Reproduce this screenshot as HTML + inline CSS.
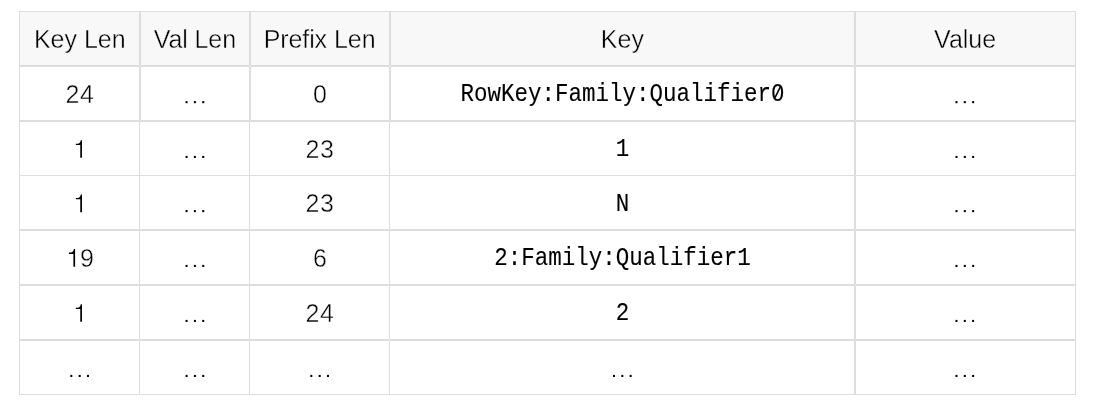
<!DOCTYPE html>
<html><head><meta charset="utf-8"><title>table</title>
<style>
html,body{margin:0;padding:0;background:#fff;}
body{width:1094px;height:408px;position:relative;overflow:hidden;font-family:"Liberation Sans",sans-serif;}
.l{position:absolute;background:#dcdddf;}
.hd{position:absolute;left:20px;top:12px;width:1055px;height:53px;background:#f8f8f8;}
.c{position:absolute;mix-blend-mode:multiply;text-align:center;white-space:nowrap;font-size:25px;line-height:30px;height:30px;color:#000;-webkit-text-stroke:0.4px #fff;}
.h{-webkit-text-stroke-color:#fff;}
.x{color:transparent;-webkit-text-stroke:0 transparent;}
.m{font-family:"Liberation Mono",monospace;font-size:22.5px;color:#000;-webkit-text-stroke:0.1px #000;transform:scaleY(1.15);transform-origin:50% 21px;}
svg{position:absolute;left:0;top:0;}
</style></head><body>
<div class="hd"></div>

<div class="l" style="left:19px;top:11px;width:1px;height:384px"></div>
<div class="l" style="left:1075px;top:11px;width:1px;height:384px"></div>
<div class="l" style="left:139px;top:11px;width:2px;height:110px"></div>
<div class="l" style="left:139px;top:121px;width:1px;height:274px"></div>
<div class="l" style="left:249px;top:11px;width:2px;height:110px"></div>
<div class="l" style="left:249px;top:121px;width:1px;height:274px"></div>
<div class="l" style="left:389px;top:11px;width:2px;height:110px"></div>
<div class="l" style="left:389px;top:121px;width:1px;height:274px"></div>
<div class="l" style="left:854px;top:11px;width:2px;height:384px"></div>
<div class="l" style="left:19px;top:11px;width:1057px;height:1px"></div>
<div class="l" style="left:19px;top:65px;width:1057px;height:2px"></div>
<div class="l" style="left:19px;top:120px;width:1057px;height:2px"></div>
<div class="l" style="left:19px;top:175px;width:1057px;height:1px"></div>
<div class="l" style="left:19px;top:229px;width:1057px;height:2px"></div>
<div class="l" style="left:19px;top:284px;width:1057px;height:2px"></div>
<div class="l" style="left:19px;top:339px;width:1057px;height:2px"></div>
<div class="l" style="left:19px;top:394px;width:1057px;height:1px"></div>
<div class="l" style="left:139px;top:65px;width:2px;height:2px;background:#e0e1e3"></div>
<div class="l" style="left:249px;top:65px;width:2px;height:2px;background:#e0e1e3"></div>
<div class="l" style="left:389px;top:65px;width:2px;height:2px;background:#e0e1e3"></div>
<div class="l" style="left:854px;top:65px;width:2px;height:2px;background:#e0e1e3"></div>
<div class="l" style="left:139px;top:120px;width:2px;height:2px;background:#e0e1e3"></div>
<div class="l" style="left:249px;top:120px;width:2px;height:2px;background:#e0e1e3"></div>
<div class="l" style="left:389px;top:120px;width:2px;height:2px;background:#e0e1e3"></div>
<div class="l" style="left:854px;top:120px;width:2px;height:2px;background:#e0e1e3"></div>
<div class="l" style="left:139px;top:175px;width:1px;height:1px;background:#e0e1e3"></div>
<div class="l" style="left:249px;top:175px;width:1px;height:1px;background:#e0e1e3"></div>
<div class="l" style="left:389px;top:175px;width:1px;height:1px;background:#e0e1e3"></div>
<div class="l" style="left:854px;top:175px;width:2px;height:1px;background:#e0e1e3"></div>
<div class="l" style="left:139px;top:229px;width:1px;height:2px;background:#e0e1e3"></div>
<div class="l" style="left:249px;top:229px;width:1px;height:2px;background:#e0e1e3"></div>
<div class="l" style="left:389px;top:229px;width:1px;height:2px;background:#e0e1e3"></div>
<div class="l" style="left:854px;top:229px;width:2px;height:2px;background:#e0e1e3"></div>
<div class="l" style="left:139px;top:284px;width:1px;height:2px;background:#e0e1e3"></div>
<div class="l" style="left:249px;top:284px;width:1px;height:2px;background:#e0e1e3"></div>
<div class="l" style="left:389px;top:284px;width:1px;height:2px;background:#e0e1e3"></div>
<div class="l" style="left:854px;top:284px;width:2px;height:2px;background:#e0e1e3"></div>
<div class="l" style="left:139px;top:339px;width:1px;height:2px;background:#e0e1e3"></div>
<div class="l" style="left:249px;top:339px;width:1px;height:2px;background:#e0e1e3"></div>
<div class="l" style="left:389px;top:339px;width:1px;height:2px;background:#e0e1e3"></div>
<div class="l" style="left:854px;top:339px;width:2px;height:2px;background:#e0e1e3"></div>
<div class="c h" style="left:20.30px;width:119px;top:23.5px">Key Len</div>
<div class="c h" style="left:141.00px;width:108px;top:23.5px"><span style="letter-spacing:-0.2px">Val</span> Len</div>
<div class="c h" style="left:250.70px;width:138px;top:23.5px"><span style="letter-spacing:-0.1px">Prefix</span> Len</div>
<div class="c h" style="left:390.85px;width:463px;top:23.5px">Key</div>
<div class="c h" style="left:855.65px;width:219px;top:23.5px">Value</div>
<div class="c" style="left:20.10px;width:119px;top:78.5px">2<span style="margin-left:0.6px">4</span></div>
<div class="c x" style="left:141px;width:108px;top:78.5px">&hellip;</div>
<div class="c" style="left:251.00px;width:138px;top:78.5px">0</div>
<div class="c m" style="left:391px;width:463px;top:80.20px">RowKey:Family:Qualifier0</div>
<div class="c x" style="left:856px;width:219px;top:78.5px">&hellip;</div>
<div class="c x" style="left:20px;width:119px;top:133.5px">1</div>
<div class="c x" style="left:141px;width:108px;top:133.5px">&hellip;</div>
<div class="c" style="left:250.70px;width:138px;top:133.5px">2<span style="margin-left:0.6px">3</span></div>
<div class="c m" style="left:391px;width:463px;top:135.20px">1</div>
<div class="c x" style="left:856px;width:219px;top:133.5px">&hellip;</div>
<div class="c x" style="left:20px;width:119px;top:187.5px">1</div>
<div class="c x" style="left:141px;width:108px;top:187.5px">&hellip;</div>
<div class="c" style="left:250.70px;width:138px;top:187.5px">2<span style="margin-left:0.6px">3</span></div>
<div class="c m" style="left:391px;width:463px;top:189.60px">N</div>
<div class="c x" style="left:856px;width:219px;top:187.5px">&hellip;</div>
<div class="c" style="left:20.40px;width:119px;top:242.5px"><span style="visibility:hidden">1</span>9</div>
<div class="c x" style="left:141px;width:108px;top:242.5px">&hellip;</div>
<div class="c" style="left:251.00px;width:138px;top:242.5px">6</div>
<div class="c m" style="left:391px;width:463px;top:244.30px">2:Family:Qualifier1</div>
<div class="c x" style="left:856px;width:219px;top:242.5px">&hellip;</div>
<div class="c x" style="left:20px;width:119px;top:297.5px">1</div>
<div class="c x" style="left:141px;width:108px;top:297.5px">&hellip;</div>
<div class="c" style="left:250.70px;width:138px;top:297.5px">2<span style="margin-left:0.6px">4</span></div>
<div class="c m" style="left:391px;width:463px;top:299.10px">2</div>
<div class="c x" style="left:856px;width:219px;top:297.5px">&hellip;</div>
<div class="c x" style="left:20px;width:119px;top:352.5px">&hellip;</div>
<div class="c x" style="left:141px;width:108px;top:352.5px">&hellip;</div>
<div class="c x" style="left:251px;width:138px;top:352.5px">&hellip;</div>
<div class="c x" style="left:391px;width:463px;top:352.5px">&hellip;</div>
<div class="c x" style="left:856px;width:219px;top:352.5px">&hellip;</div>
<svg width="1094" height="408" viewBox="0 0 1094 408" fill="#000"><rect x="775.8" y="90.3" width="3.9" height="4.1" fill="#fff"/><path d="M775.0,97.7 L780.6,86.3" stroke="#000" stroke-width="1.55" fill="none"/><path transform="translate(81.97 157.85)" d="M-1.7,0 L0,0 L0,-17.7 L-1.2,-17.7 C-1.55,-15.5 -2.65,-14.2 -4.3,-14.2 L-6.1,-14.2 L-6.1,-12.9 L-1.7,-12.9 Z"/><path transform="translate(81.97 212.25)" d="M-1.7,0 L0,0 L0,-17.7 L-1.2,-17.7 C-1.55,-15.5 -2.65,-14.2 -4.3,-14.2 L-6.1,-14.2 L-6.1,-12.9 L-1.7,-12.9 Z"/><path transform="translate(81.97 321.85)" d="M-1.7,0 L0,0 L0,-17.7 L-1.2,-17.7 C-1.55,-15.5 -2.65,-14.2 -4.3,-14.2 L-6.1,-14.2 L-6.1,-12.9 L-1.7,-12.9 Z"/><path transform="translate(75.10 266.80)" d="M-1.7,0 L0,0 L0,-17.7 L-1.2,-17.7 C-1.55,-15.5 -2.65,-14.2 -4.3,-14.2 L-6.1,-14.2 L-6.1,-12.9 L-1.7,-12.9 Z"/><rect x="185.57" y="101.10" width="2" height="2.1"/><rect x="193.90" y="101.10" width="2" height="2.1"/><rect x="202.23" y="101.10" width="2" height="2.1"/><rect x="955.47" y="101.10" width="2" height="2.1"/><rect x="963.80" y="101.10" width="2" height="2.1"/><rect x="972.13" y="101.10" width="2" height="2.1"/><rect x="185.57" y="155.90" width="2" height="2.1"/><rect x="193.90" y="155.90" width="2" height="2.1"/><rect x="202.23" y="155.90" width="2" height="2.1"/><rect x="955.47" y="155.90" width="2" height="2.1"/><rect x="963.80" y="155.90" width="2" height="2.1"/><rect x="972.13" y="155.90" width="2" height="2.1"/><rect x="185.57" y="210.05" width="2" height="2.1"/><rect x="193.90" y="210.05" width="2" height="2.1"/><rect x="202.23" y="210.05" width="2" height="2.1"/><rect x="955.47" y="210.05" width="2" height="2.1"/><rect x="963.80" y="210.05" width="2" height="2.1"/><rect x="972.13" y="210.05" width="2" height="2.1"/><rect x="185.57" y="264.90" width="2" height="2.1"/><rect x="193.90" y="264.90" width="2" height="2.1"/><rect x="202.23" y="264.90" width="2" height="2.1"/><rect x="955.47" y="264.90" width="2" height="2.1"/><rect x="963.80" y="264.90" width="2" height="2.1"/><rect x="972.13" y="264.90" width="2" height="2.1"/><rect x="185.57" y="319.90" width="2" height="2.1"/><rect x="193.90" y="319.90" width="2" height="2.1"/><rect x="202.23" y="319.90" width="2" height="2.1"/><rect x="955.47" y="319.90" width="2" height="2.1"/><rect x="963.80" y="319.90" width="2" height="2.1"/><rect x="972.13" y="319.90" width="2" height="2.1"/><rect x="70.33" y="374.90" width="2" height="2.1"/><rect x="78.66" y="374.90" width="2" height="2.1"/><rect x="86.99" y="374.90" width="2" height="2.1"/><rect x="185.57" y="374.90" width="2" height="2.1"/><rect x="193.90" y="374.90" width="2" height="2.1"/><rect x="202.23" y="374.90" width="2" height="2.1"/><rect x="310.33" y="374.90" width="2" height="2.1"/><rect x="318.66" y="374.90" width="2" height="2.1"/><rect x="326.99" y="374.90" width="2" height="2.1"/><rect x="612.99" y="374.90" width="2" height="2.1"/><rect x="621.32" y="374.90" width="2" height="2.1"/><rect x="629.65" y="374.90" width="2" height="2.1"/><rect x="955.47" y="374.90" width="2" height="2.1"/><rect x="963.80" y="374.90" width="2" height="2.1"/><rect x="972.13" y="374.90" width="2" height="2.1"/></svg>
</body></html>
